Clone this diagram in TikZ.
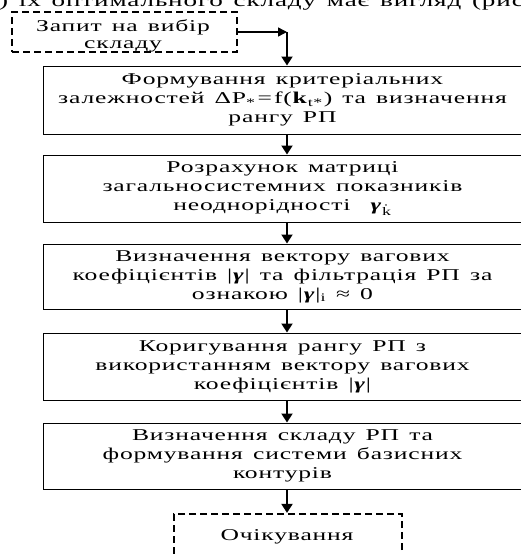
\documentclass[tikz,border=0pt]{standalone}
\usepackage{fontspec}
\setmainfont[FakeStretch=1.55,LetterSpace=5,WordSpace=1.4]{Liberation Serif}
\usetikzlibrary{arrows.meta}
\begin{document}
\begin{tikzpicture}[x=1pt,y=-1pt,
  font=\fontsize{16.5}{19}\selectfont,
  box/.style={draw=black,line width=1pt,inner sep=0pt,align=center,minimum width=479pt},
  dbox/.style={draw=black,line width=2.2pt,dash pattern=on 7pt off 4pt,inner sep=0pt,align=center},
  arr/.style={line width=2pt,-{Triangle[width=11pt,length=9pt]}},
  harr/.style={line width=1.4pt,-{Triangle[width=9pt,length=9pt]}}]
\useasboundingbox (0,0) rectangle (521,554);
\clip (0,0) rectangle (521,554);
\node[anchor=base west,inner sep=0pt,font=\fontsize{17.5}{19}\selectfont] (top) at (-1,6.5) {) їх оптимального складу має вигляд (рис};
\node[dbox,minimum width=225pt,minimum height=40pt] (b1) at (124.5,32) {};
\node[align=center,inner sep=0pt,font=\fontsize{16.5}{17}\selectfont] (t1) at (123,36) {Запит на вибір\\ складу};
\node[box,minimum height=68pt] (b2) at (282.5,100) {Формування критеріальних\\ залежностей ΔP\textsubscript{*}\kern2pt=\kern2pt f(\textbf{k}\textsubscript{t*}\kern1pt) та визначення\\ рангу РП};
\node[box,minimum height=67pt] (b3) at (282.5,188.5) {Розрахунок матриці\\ загальносистемних показників\\ неоднорідності \ \textbf{\textit{γ}}\textsubscript{\.{k}}};
\node[box,minimum height=65pt] (b4) at (282.5,276.5) {Визначення вектору вагових\\ коефіцієнтів |\textbf{\textit{γ}}| та фільтрація РП за\\ ознакою |\textbf{\textit{γ}}|\textsubscript{i} ≈ 0};
\node[box,minimum height=67pt] (b5) at (282.5,366.5) {Коригування рангу РП з\\ використанням вектору вагових\\ коефіцієнтів |\textbf{\textit{γ}}|};
\node[box,minimum height=66pt] (b6) at (282.5,456) {Визначення складу РП та\\ формування системи базисних\\ контурів};
\node[dbox,minimum width=228pt,minimum height=50pt] (b7) at (288,539) {};
\node[inner sep=0pt] (t7) at (287,537) {Очікування};
\coordinate (ax) at (287,0);
\coordinate (corner) at (287,32);
\draw[harr] (b1.east) -- (corner);
\draw[arr] (corner) -- (b2.north -| corner);
\draw[arr] (b2.south -| ax) -- (b3.north -| ax);
\draw[arr] (b3.south -| ax) -- (b4.north -| ax);
\draw[arr] (b4.south -| ax) -- (b5.north -| ax);
\draw[arr] (b5.south -| ax) -- (b6.north -| ax);
\draw[arr] (b6.south -| ax) -- (b7.north -| ax);
\end{tikzpicture}
\end{document}
